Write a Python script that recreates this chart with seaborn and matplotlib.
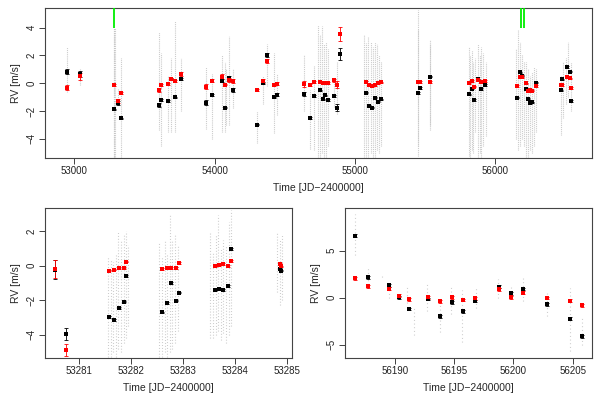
import numpy as np
import pandas as pd
import matplotlib
matplotlib.use('Agg')
import matplotlib.pyplot as plt
import seaborn as sns

# ---- top panel: binned RVs over the full baseline ----
t_all = [52948, 53038, 53280, 53309, 53335, 53601, 53620, 53668, 53691, 53718,
         53762, 53934, 53981, 54053, 54076, 54102, 54128, 54299, 54342, 54375,
         54425, 54442, 54634, 54680, 54710, 54753, 54772, 54786, 54805, 54853,
         54869, 54896, 55079, 55102, 55124, 55140, 55164, 55186, 55449, 55461,
         55532, 55815, 55831, 55846, 55877, 55900, 55929, 56155, 56173, 56192,
         56216, 56235, 56249, 56261, 56290, 56465, 56477, 56508, 56530, 56542]
rv_black_all = [0.84, 0.67, -1.88, -1.45, -2.53, -1.59, -1.20, -1.28, 0.30, -1.01,
                0.31, -1.40, -0.84, 0.17, -1.76, 0.38, -0.51, -2.99, 0.02, 2.04,
                -1.01, -0.82, -0.80, -2.50, -0.92, -0.50, -1.16, -0.87, -1.20, -0.92,
                -1.76, 2.09, -0.68, -1.61, -1.76, -1.04, -1.33, -1.16, -0.70, -0.34,
                0.48, -0.80, -0.39, -1.20, 0.29, -0.41, -0.14, -1.04, 0.79, 0.55,
                -0.43, -1.11, -1.45, -1.37, 0.05, -0.51, 0.29, 1.16, 0.84, -1.28]
rv_red_all = [-0.32, 0.50, -0.12, -1.25, -0.70, -0.48, -0.12, -0.05, 0.31, 0.17,
              0.67, -0.24, 0.19, 0.48, -0.10, 0.26, 0.14, -0.48, 0.17, 1.61,
              -0.14, -0.03, -0.05, -0.14, 0.09, 0.12, 0.05, 0.00, 0.02, 0.22,
              -0.12, 3.53, 0.09, -0.12, -0.22, -0.12, 0.00, 0.07, 0.09, 0.09,
              0.09, 0.00, 0.17, -0.24, 0.24, 0.09, 0.17, -0.20, 0.48, 0.43,
              0.00, -0.53, -0.51, -0.53, -0.20, -0.14, -0.14, 0.43, 0.36, -0.34]
err_black_all = [0.15, 0.2, 0.05, 0.15, 0.05, 0.15, 0.1, 0.05, 0.1, 0.05,
                 0.1, 0.2, 0.1, 0.1, 0.05, 0.15, 0.15, 0.05, 0.1, 0.12,
                 0.05, 0.12, 0.15, 0.05, 0.05, 0.05, 0.05, 0.05, 0.05, 0.05,
                 0.25, 0.45, 0.05, 0.05, 0.05, 0.05, 0.05, 0.05, 0.05, 0.05,
                 0.05, 0.05, 0.05, 0.05, 0.05, 0.05, 0.05, 0.05, 0.05, 0.05,
                 0.05, 0.05, 0.05, 0.05, 0.05, 0.05, 0.05, 0.05, 0.05, 0.05]
err_red_all = [0.2, 0.25, 0.05, 0.15, 0.05, 0.15, 0.05, 0.05, 0.1, 0.05,
               0.15, 0.2, 0.1, 0.15, 0.05, 0.15, 0.15, 0.05, 0.15, 0.15,
               0.05, 0.12, 0.2, 0.05, 0.05, 0.05, 0.05, 0.05, 0.05, 0.1,
               0.25, 0.52, 0.05, 0.05, 0.05, 0.05, 0.05, 0.05, 0.05, 0.05,
               0.05, 0.05, 0.05, 0.05, 0.05, 0.05, 0.05, 0.05, 0.05, 0.05,
               0.05, 0.05, 0.05, 0.05, 0.05, 0.05, 0.05, 0.05, 0.05, 0.05]
# grey individual exposures, as (time, lowest, highest)
grey_all = [(52948, -0.6, 2.6), (53038, -0.1, 1.1), (53279, -5.35, 4.0), (53283, -5.35, 4.0),
            (53287, -5.35, 4.0), (53309, -1.6, -0.4), (53335, -5.3, 1.8), (53601, -3.4, 3.7),
            (53620, -4.5, 2.2), (53668, -3.5, 0.5), (53691, -3.5, 1.8), (53718, -3.5, 4.5),
            (53762, -2.0, 1.8), (53934, -3.3, 1.2), (53981, -4.0, 0.7), (54053, -3.5, 2.0),
            (54076, -3.5, 1.5), (54080, -3.0, 1.0), (54102, -3.0, 3.4), (54128, -1.8, 1.0),
            (54299, -4.3, -2.0), (54342, -1.5, 0.5), (54375, -0.2, 2.8), (54425, -3.6, 2.2),
            (54442, -2.3, 0.7), (54634, -2.0, 2.0), (54680, -4.7, -0.5), (54710, -4.8, 1.3),
            (54735, -5.3, 4.2), (54750, -5.3, 3.5), (54765, -5.0, 4.1), (54780, -5.3, 2.8),
            (54795, -5.3, 3.0), (54810, -4.5, 2.5), (54853, -1.7, 0.3), (54869, -2.2, 1.5),
            (55065, -5.3, 3.5), (55080, -5.3, 2.9), (55095, -5.3, 3.3), (55110, -5.0, 3.0),
            (55125, -5.3, 2.6), (55140, -5.3, 3.0), (55155, -4.8, 2.8), (55170, -5.0, 2.0),
            (55185, -4.5, 1.5), (55449, -5.2, 5.3), (55452, -4.5, 3.8), (55532, -3.4, 3.1),
            (55535, -3.0, 2.8), (55810, -5.2, 2.6), (55820, -5.3, 2.0), (55830, -4.8, 2.4),
            (55842, -5.0, 1.5), (55855, -3.5, 1.8), (55875, -5.3, 2.8), (55888, -5.0, 2.0),
            (55900, -5.3, 2.6), (55915, -4.5, 2.2), (55930, -3.8, 1.5), (56150, -4.0, 2.5),
            (56162, -4.8, 3.8), (56175, -4.5, 3.0), (56190, -4.0, 2.0), (56205, -4.5, 1.5),
            (56218, -5.3, 1.5), (56232, -5.3, 1.0), (56246, -4.8, 0.5), (56260, -5.0, 0.8),
            (56275, -4.5, 1.2), (56290, -3.5, 1.0), (56465, -3.7, 0.5), (56480, -2.5, 1.5),
            (56500, -1.5, 1.8), (56520, -1.0, 3.0), (56540, -2.0, 1.5)]
zoom_marks = [53283, 56183, 56207]

# ---- bottom left: a few nights in 2004 ----
t_a = [53280.54, 53280.76, 53281.585, 53281.68, 53281.77, 53281.86, 53281.91,
       53282.60, 53282.69, 53282.78, 53282.87, 53282.92,
       53283.61, 53283.70, 53283.78, 53283.87, 53283.92, 53284.87, 53284.89]
rv_black_a = [-0.25, -3.95, -2.98, -3.14, -2.46, -2.08, -0.61,
              -2.71, -2.16, -1.02, -2.02, -1.56,
              -1.40, -1.33, -1.40, -1.16, 0.95, -0.19, -0.29]
rv_red_a = [-0.19, -4.87, -0.29, -0.23, -0.15, -0.15, 0.23,
            -0.21, -0.13, -0.13, -0.15, 0.14,
            -0.03, 0.04, 0.08, -0.01, 0.25, 0.10, -0.05]
err_black_a = [0.55, 0.35] + [0.05] * 17
err_red_a = [0.5, 0.35] + [0.05] * 17
grey_a = [(53281.56, -5.3, 0.5), (53281.61, -5.3, 0.4), (53281.66, -5.0, 0.2), (53281.71, -5.3, 0.6),
          (53281.76, -4.8, 2.0), (53281.81, -5.0, 1.5), (53281.86, -4.5, 1.8), (53281.91, -4.2, 2.0),
          (53281.95, -3.5, 1.2),
          (53282.55, -5.3, 1.3), (53282.60, -5.3, 0.5), (53282.65, -5.0, 1.5), (53282.70, -5.3, 0.6),
          (53282.75, -5.0, 2.9), (53282.80, -4.8, 1.5), (53282.85, -4.5, 1.8), (53282.90, -3.8, 1.2),
          (53283.53, -4.2, 1.9), (53283.58, -4.2, 0.8), (53283.63, -4.0, 1.8), (53283.68, -3.8, 2.9),
          (53283.73, -4.3, 1.0), (53283.78, -3.9, 1.5), (53283.83, -4.5, 1.2), (53283.88, -4.0, 2.5),
          (53283.93, -3.5, 3.2),
          (53284.81, -1.5, 1.9), (53284.86, -2.3, 1.5), (53284.90, -2.0, 1.8)]

# ---- bottom right: 2012 campaign ----
t_b = [56186.65, 56187.69, 56189.47, 56190.31, 56191.21, 56192.76, 56193.80, 56194.79,
       56195.77, 56196.78, 56198.78, 56199.80, 56200.81, 56202.81, 56204.81, 56205.82]
rv_black_b = [6.6, 2.16, 1.31, 0.04, -1.20, -0.14, -1.97, -0.49,
              -1.44, -0.35, 1.17, 0.47, 0.92, -0.70, -2.23, -4.10]
rv_red_b = [2.05, 1.21, 0.95, 0.21, -0.17, 0.04, -0.38, 0.04,
            -0.24, -0.07, 0.89, 0.04, 0.53, -0.03, -0.32, -0.81]
err_b = [0.15] * 16
grey_b = [(56186.6, 4.5, 8.9), (56187.7, 1.0, 3.3), (56188.9, 2.2, 2.4), (56189.5, 0.0, 1.6),
          (56190.3, -0.1, 0.5), (56191.0, -0.6, 1.2), (56191.6, -4.0, -1.0), (56192.7, -1.4, 1.5),
          (56193.8, -3.6, -0.8), (56194.7, -1.7, 1.1), (56195.7, -4.7, 0.8), (56196.8, -1.1, 1.0),
          (56198.7, 0.0, 2.0), (56199.8, -0.1, 1.3), (56200.8, -0.3, 2.1), (56202.8, -1.9, 0.6),
          (56204.8, -5.7, 1.0), (56205.8, -5.0, -1.9)]

sns.set_style('ticks')
plt.rcParams['font.family'] = ['Liberation Sans', 'DejaVu Sans']

fig = plt.figure(figsize=(6, 4), dpi=100)
ax_top = fig.add_axes([0.075, 0.606, 0.912, 0.3735])
ax_a = fig.add_axes([0.075, 0.106, 0.411, 0.3735])
ax_b = fig.add_axes([0.575, 0.106, 0.411, 0.3735])


def draw_panel(ax, t, black, red, eb, er, grey, ms, dash):
    g = pd.DataFrame(grey, columns=['t', 'lo', 'hi'])
    ax.vlines(g['t'], g['lo'], g['hi'], color='#c6c6c6', lw=0.8,
              linestyles=(0, dash), zorder=1)
    df = pd.DataFrame({'t': t, 'black': black, 'red': red})
    ax.errorbar(t, black, yerr=eb, fmt='none', ecolor='black', elinewidth=0.6,
                capsize=1.3, capthick=0.6, zorder=2)
    ax.errorbar(t, red, yerr=er, fmt='none', ecolor='red', elinewidth=0.6,
                capsize=1.3, capthick=0.6, zorder=3)
    sns.scatterplot(data=df, x='t', y='black', ax=ax, color='black', marker='s',
                    s=ms, linewidth=0, zorder=4, legend=False)
    sns.scatterplot(data=df, x='t', y='red', ax=ax, color='red', marker='s',
                    s=ms, linewidth=0, zorder=5, legend=False)


def r_style(ax, xticks, yticks, xlim, ylim):
    ax.set_xlim(*xlim)
    ax.set_ylim(*ylim)
    ax.set_xticks(xticks)
    ax.set_yticks(yticks)
    ax.set_xticklabels([str(v) for v in xticks])
    ax.set_yticklabels([str(v).replace('-', '\u2212') for v in yticks])
    for s in ax.spines.values():
        s.set_visible(True)
        s.set_color('#444444')
        s.set_linewidth(0.8)
    ax.tick_params(direction='out', length=4, width=0.6, labelsize=7, colors='#222222', pad=2)
    for lab in ax.get_yticklabels():
        lab.set_rotation(90)
        lab.set_verticalalignment('center')
    ax.set_xlabel('Time [JD\u22122400000]', fontsize=7.5, labelpad=5)
    ax.set_ylabel('RV [m/s]', fontsize=7.5, labelpad=4)


draw_panel(ax_top, t_all, rv_black_all, rv_red_all, err_black_all, err_red_all, grey_all, 7, (0.8, 0.9))
ax_top.vlines(zoom_marks, 4.0, 5.5, color='#00ee00', lw=1.3, zorder=6)
r_style(ax_top, [53000, 54000, 55000, 56000], [-4, -2, 0, 2, 4], (52790, 56690), (-5.35, 5.4))

draw_panel(ax_a, t_a, rv_black_a, rv_red_a, err_black_a, err_red_a, grey_a, 7, (0.8, 1.8))
r_style(ax_a, [53281, 53282, 53283, 53284, 53285], [-4, -2, 0, 2], (53280.35, 53285.09), (-5.32, 3.32))

draw_panel(ax_b, t_b, rv_black_b, rv_red_b, err_b, err_b, grey_b, 7, (0.8, 2.5))
r_style(ax_b, [56190, 56195, 56200, 56205], [-5, 0, 5], (56185.78, 56206.6), (-6.36, 9.5))

fig.savefig('out.png', dpi=100)
